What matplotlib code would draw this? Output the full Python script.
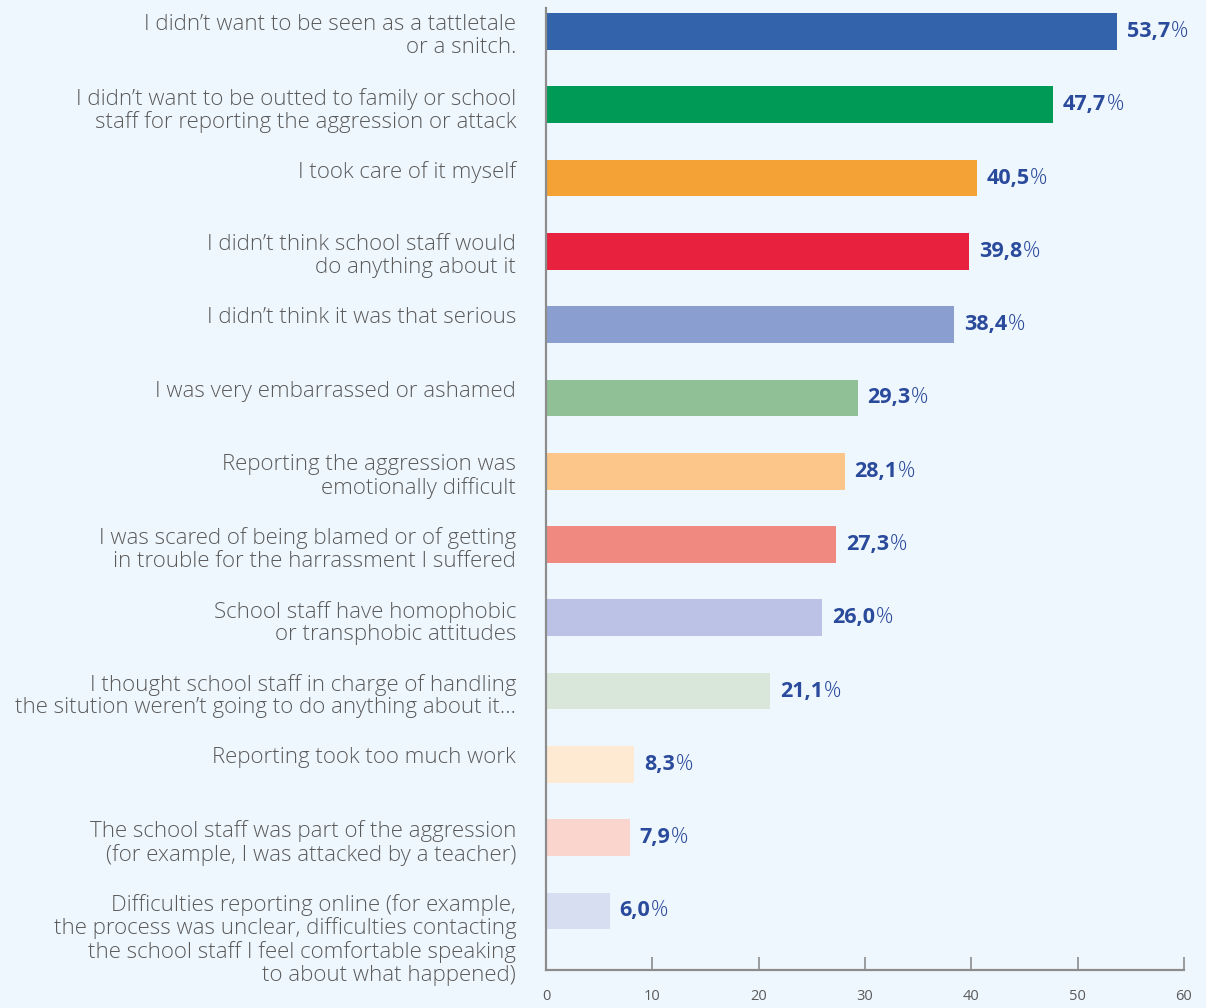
import matplotlib
matplotlib.use("Agg")
import matplotlib.pyplot as plt

# Reasons for not reporting, top to bottom
reasons = [
    "I didn\u2019t want to be seen as a tattletale\nor a snitch.",
    "I didn\u2019t want to be outted to family or school\nstaff for reporting the aggression or attack",
    "I took care of it myself",
    "I didn\u2019t think school staff would\ndo anything about it",
    "I didn\u2019t think it was that serious",
    "I was very embarrassed or ashamed",
    "Reporting the aggression was\nemotionally difficult",
    "I was scared of being blamed or of getting\nin trouble for the harrassment I suffered",
    "School staff have homophobic\nor transphobic attitudes",
    "I thought school staff in charge of handling\nthe sitution weren\u2019t going to do anything about it\u2026",
    "Reporting took too much work",
    "The school staff was part of the aggression\n(for example, I was attacked by a teacher)",
    "Difficulties reporting online (for example,\nthe process was unclear, difficulties contacting\nthe school staff I feel comfortable speaking\nto about what happened)",
]
values = [53.7, 47.7, 40.5, 39.8, 38.4, 29.3, 28.1, 27.3, 26.0, 21.1, 8.3, 7.9, 6.0]
bar_colors = [
    "#3263AB", "#009A57", "#F4A236", "#E8213E", "#8A9ED0", "#90C196",
    "#FCC68A", "#F08A80", "#BCC2E5", "#D9E6DA", "#FEE9D3", "#FAD5CD", "#D8DEF1",
]
x_ticks = [0, 10, 20, 30, 40, 50, 60]

BG = "#EFF7FE"
TEXT_GREY = "#5A5A5A"
VALUE_BLUE = "#2A4A9B"
SPINE = "#8C8C8C"
FONT = ["Open Sans", "DejaVu Sans"]

fig = plt.figure(figsize=(12.06, 10.08), dpi=100, facecolor=BG)
ax = fig.add_axes([546 / 1206, 38 / 1008, 638 / 1206, 962 / 1008])
ax.set_facecolor(BG)

positions = list(range(len(values)))
ax.barh(positions, values, height=0.5, color=bar_colors, zorder=2)

ax.set_xlim(0, 60)
ax.set_ylim(12.805, -0.32)

for side in ("top", "right"):
    ax.spines[side].set_visible(False)
for side in ("left", "bottom"):
    ax.spines[side].set_color(SPINE)
    ax.spines[side].set_linewidth(1.6)

ax.set_yticks([])
ax.set_xticks(x_ticks)
ax.set_xticklabels([str(t) for t in x_ticks])
ax.tick_params(axis="x", direction="in", length=9.5, width=1.2, color=SPINE,
               pad=14, labelsize=10.5, labelcolor=TEXT_GREY)
for lbl in ax.get_xticklabels():
    lbl.set_fontfamily(FONT)

# Category labels, right aligned against the axis; first line sits on the bar's centre
for pos, text in zip(positions, reasons):
    ax.text(-2.8, pos - 0.235, text, ha="right", va="top", fontsize=16,
            family=FONT, fontweight="light", color=TEXT_GREY, linespacing=1.1,
            clip_on=False)

# Value labels: bold number followed by a lighter percent sign
for pos, v in zip(positions, values):
    num = ax.annotate(f"{v:.1f}".replace(".", ","), xy=(v, pos),
                      xytext=(7, 0), textcoords="offset points",
                      ha="left", va="center", fontsize=15.5, fontweight="bold",
                      family=FONT, color=VALUE_BLUE, annotation_clip=False)
    ax.annotate("%", xy=(1, 0), xycoords=num, xytext=(0.5, 0),
                textcoords="offset points", ha="left", va="bottom",
                fontsize=15.5, fontweight="light", family=FONT,
                color=VALUE_BLUE, annotation_clip=False)

fig.savefig("out.png", dpi=100, facecolor=BG)
